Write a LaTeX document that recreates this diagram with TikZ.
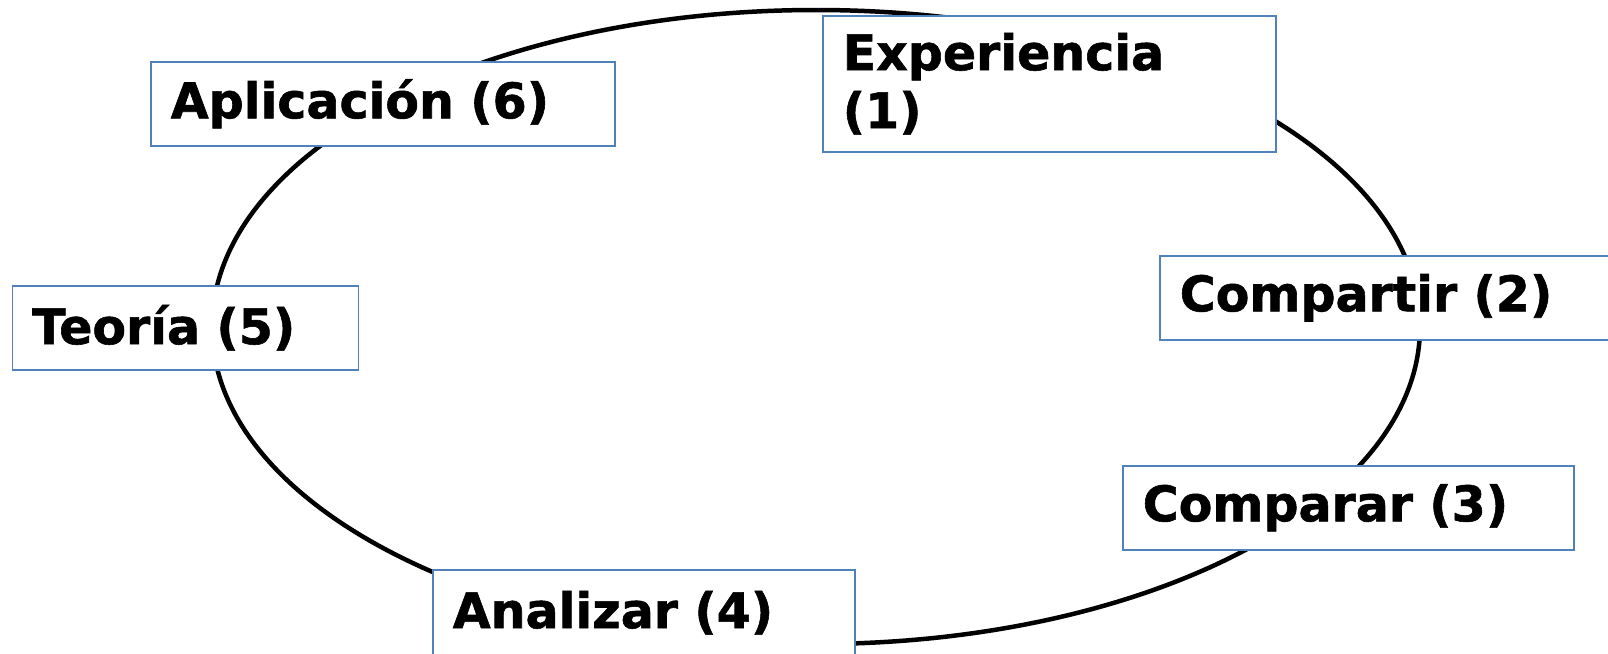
\documentclass[tikz,border=0pt]{standalone}
\usepackage{fontspec}
\setmainfont{DejaVu Sans}[BoldFeatures={FakeBold=1.2}]
\definecolor{boxblue}{HTML}{4F81BD}
\tikzset{
  lbox/.style={draw=boxblue, line width=1.5pt, fill=white, anchor=north west,
    inner xsep=20pt, inner ysep=0pt, align=left,
    font=\fontsize{49}{58}\selectfont\bfseries},
  ring/.style={line width=4.5pt, black}
}
\begin{document}
\begin{tikzpicture}[x=1pt,y=-1pt]
\useasboundingbox (0,0) rectangle (1608,653);
\draw[ring] (816,327) ellipse [x radius=604pt, y radius=317pt];
\node[lbox, minimum height=84pt, text width=424pt] (apl) at (150,61) {Aplicación (6)};
\node[lbox, minimum height=136pt, text width=413pt] (exp) at (822,15) {Experiencia\\(1)};
\node[lbox, minimum height=84pt, text width=420pt] (com2) at (1159,255) {Compartir (2)};
\node[lbox, minimum height=84pt, text width=411pt] (com3) at (1122,465) {Comparar (3)};
\node[lbox, minimum height=86pt, text width=382pt] (ana) at (432,569) {Analizar (4)};
\node[lbox, minimum height=84pt, text width=306pt] (teo) at (11.5,285) {Teoría (5)};
\end{tikzpicture}
\end{document}
